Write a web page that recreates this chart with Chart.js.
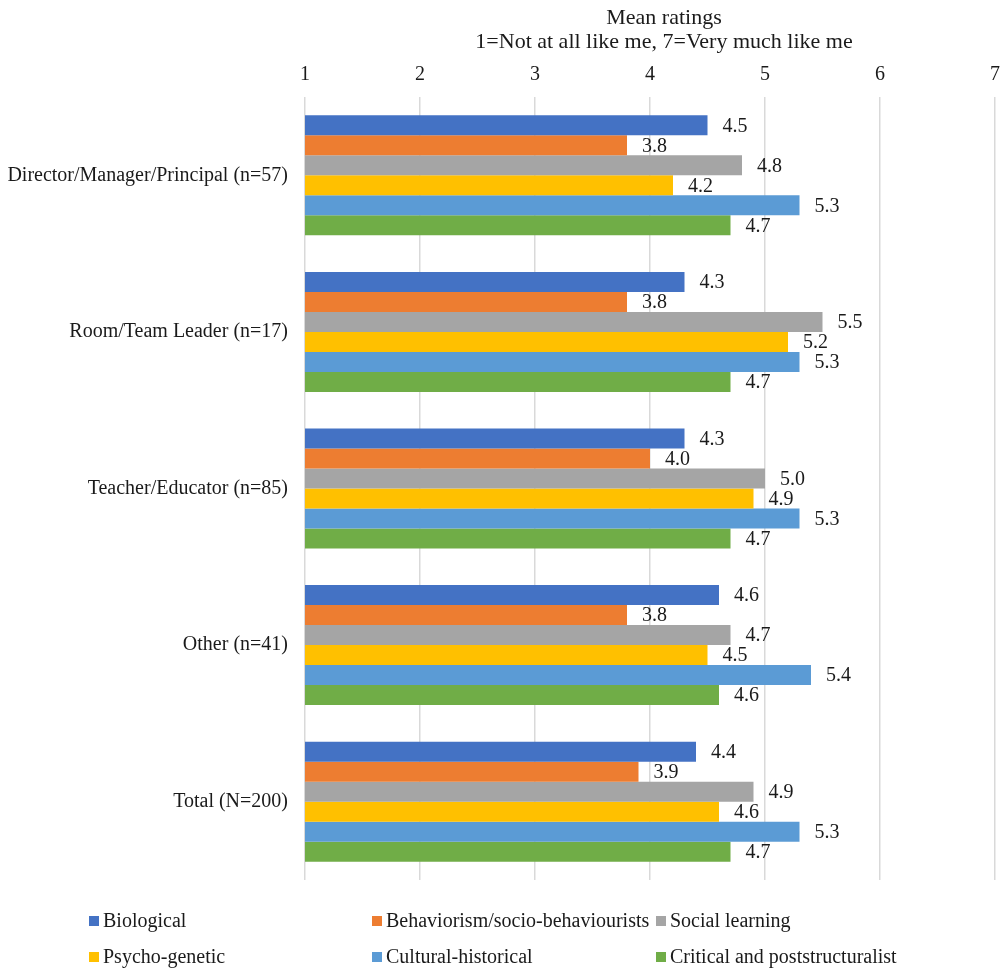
<!DOCTYPE html>
<html>
<head>
<meta charset="utf-8">
<script src="https://cdn.jsdelivr.net/npm/chart.js@4.4.1/dist/chart.umd.min.js"></script>
<style>
  html, body { margin: 0; padding: 0; background: #ffffff; }
  #wrap { width: 1003px; height: 969px; }
</style>
</head>
<body>
<div id="wrap"><canvas id="chart" width="1003" height="969"></canvas></div>
<script>
// Staff roles (rows of the chart)
const roles = [
  'Director/Manager/Principal (n=57)',
  'Room/Team Leader (n=17)',
  'Teacher/Educator (n=85)',
  'Other (n=41)',
  'Total (N=200)'
];

// Theory families (one series each)
const theories = [
  'Biological',
  'Behaviorism/socio-behaviourists',
  'Social learning',
  'Psycho-genetic',
  'Cultural-historical',
  'Critical and poststructuralist'
];

// Mean ratings per theory, in role order
const biological      = [4.5, 4.3, 4.3, 4.6, 4.4];
const behaviourist    = [3.8, 3.8, 4.0, 3.8, 3.9];
const socialLearning  = [4.8, 5.5, 5.0, 4.7, 4.9];
const psychoGenetic   = [4.2, 5.2, 4.9, 4.5, 4.6];
const culturalHist    = [5.3, 5.3, 5.3, 5.4, 5.3];
const criticalPost    = [4.7, 4.7, 4.7, 4.6, 4.7];

const seriesValues = [biological, behaviourist, socialLearning, psychoGenetic, culturalHist, criticalPost];
const seriesColors = ['#4472C4', '#ED7D31', '#A5A5A5', '#FFC000', '#5B9BD5', '#70AD47'];

// Scale ticks 1..7
const ratingTicks = [1, 2, 3, 4, 5, 6, 7];

const titleLines = ['Mean ratings', '1=Not at all like me, 7=Very much like me'];

const SERIF = '"Liberation Serif", "Times New Roman", serif';
const TEXT = '#1a1a1a';

// Two-line heading above the axis
const heading = {
  id: 'heading',
  afterDraw(chart) {
    const ctx = chart.ctx;
    ctx.save();
    ctx.font = '22px ' + SERIF;
    ctx.fillStyle = TEXT;
    ctx.textAlign = 'center';
    ctx.textBaseline = 'middle';
    titleLines.forEach((line, i) => ctx.fillText(line, 664, 18 + i * 24));
    ctx.restore();
  }
};

// Value labels just past the end of each bar
const valueLabels = {
  id: 'valueLabels',
  afterDatasetsDraw(chart) {
    const ctx = chart.ctx;
    ctx.save();
    ctx.font = '20px ' + SERIF;
    ctx.fillStyle = TEXT;
    ctx.textAlign = 'left';
    ctx.textBaseline = 'middle';
    chart.data.datasets.forEach((ds, i) => {
      const meta = chart.getDatasetMeta(i);
      meta.data.forEach((bar, j) => {
        ctx.fillText(ds.data[j].toFixed(1), bar.x + 15, bar.y + 1);
      });
    });
    ctx.restore();
  }
};

// Legend laid out in three fixed columns, two rows
const gridLegend = {
  id: 'gridLegend',
  afterDraw(chart) {
    const ctx = chart.ctx;
    const cols = [89, 372, 656];
    const rows = [921, 957];
    const box = 10;
    ctx.save();
    ctx.font = '20px ' + SERIF;
    ctx.textAlign = 'left';
    ctx.textBaseline = 'middle';
    chart.data.datasets.forEach((ds, i) => {
      const x = cols[i % 3];
      const y = rows[Math.floor(i / 3)];
      ctx.fillStyle = ds.backgroundColor;
      ctx.fillRect(x, y - box / 2, box, box);
      ctx.fillStyle = TEXT;
      ctx.fillText(ds.label, x + box + 4, y + 1);
    });
    ctx.restore();
  }
};

new Chart(document.getElementById('chart'), {
  type: 'bar',
  data: {
    labels: roles,
    datasets: theories.map((name, i) => ({
      label: name,
      data: seriesValues[i],
      backgroundColor: seriesColors[i],
      borderWidth: 0,
      categoryPercentage: 0.766,
      barPercentage: 1.0
    }))
  },
  options: {
    indexAxis: 'y',
    responsive: false,
    animation: false,
    layout: { padding: { left: 0, right: 0, top: 58, bottom: 89 } },
    plugins: {
      legend: { display: false },
      tooltip: { enabled: false },
      title: { display: false }
    },
    scales: {
      x: {
        position: 'top',
        min: 1,
        max: 7,
        afterBuildTicks(scale) {
          scale.ticks = ratingTicks.map(v => ({ value: v }));
        },
        afterFit(scale) {
          scale.height = 39;
          scale.paddingRight = 8;
          scale.paddingLeft = 0;
        },
        border: { display: false },
        grid: { color: '#d9d9d9', lineWidth: 1.5, drawTicks: false },
        ticks: {
          color: TEXT,
          padding: 10,
          font: { family: SERIF, size: 20 }
        }
      },
      y: {
        afterFit(scale) { scale.width = 305; },
        border: { display: false },
        grid: { display: false, drawTicks: false },
        ticks: {
          color: TEXT,
          padding: 17,
          font: { family: SERIF, size: 20 }
        }
      }
    }
  },
  plugins: [heading, valueLabels, gridLegend]
});
</script>
</body>
</html>
